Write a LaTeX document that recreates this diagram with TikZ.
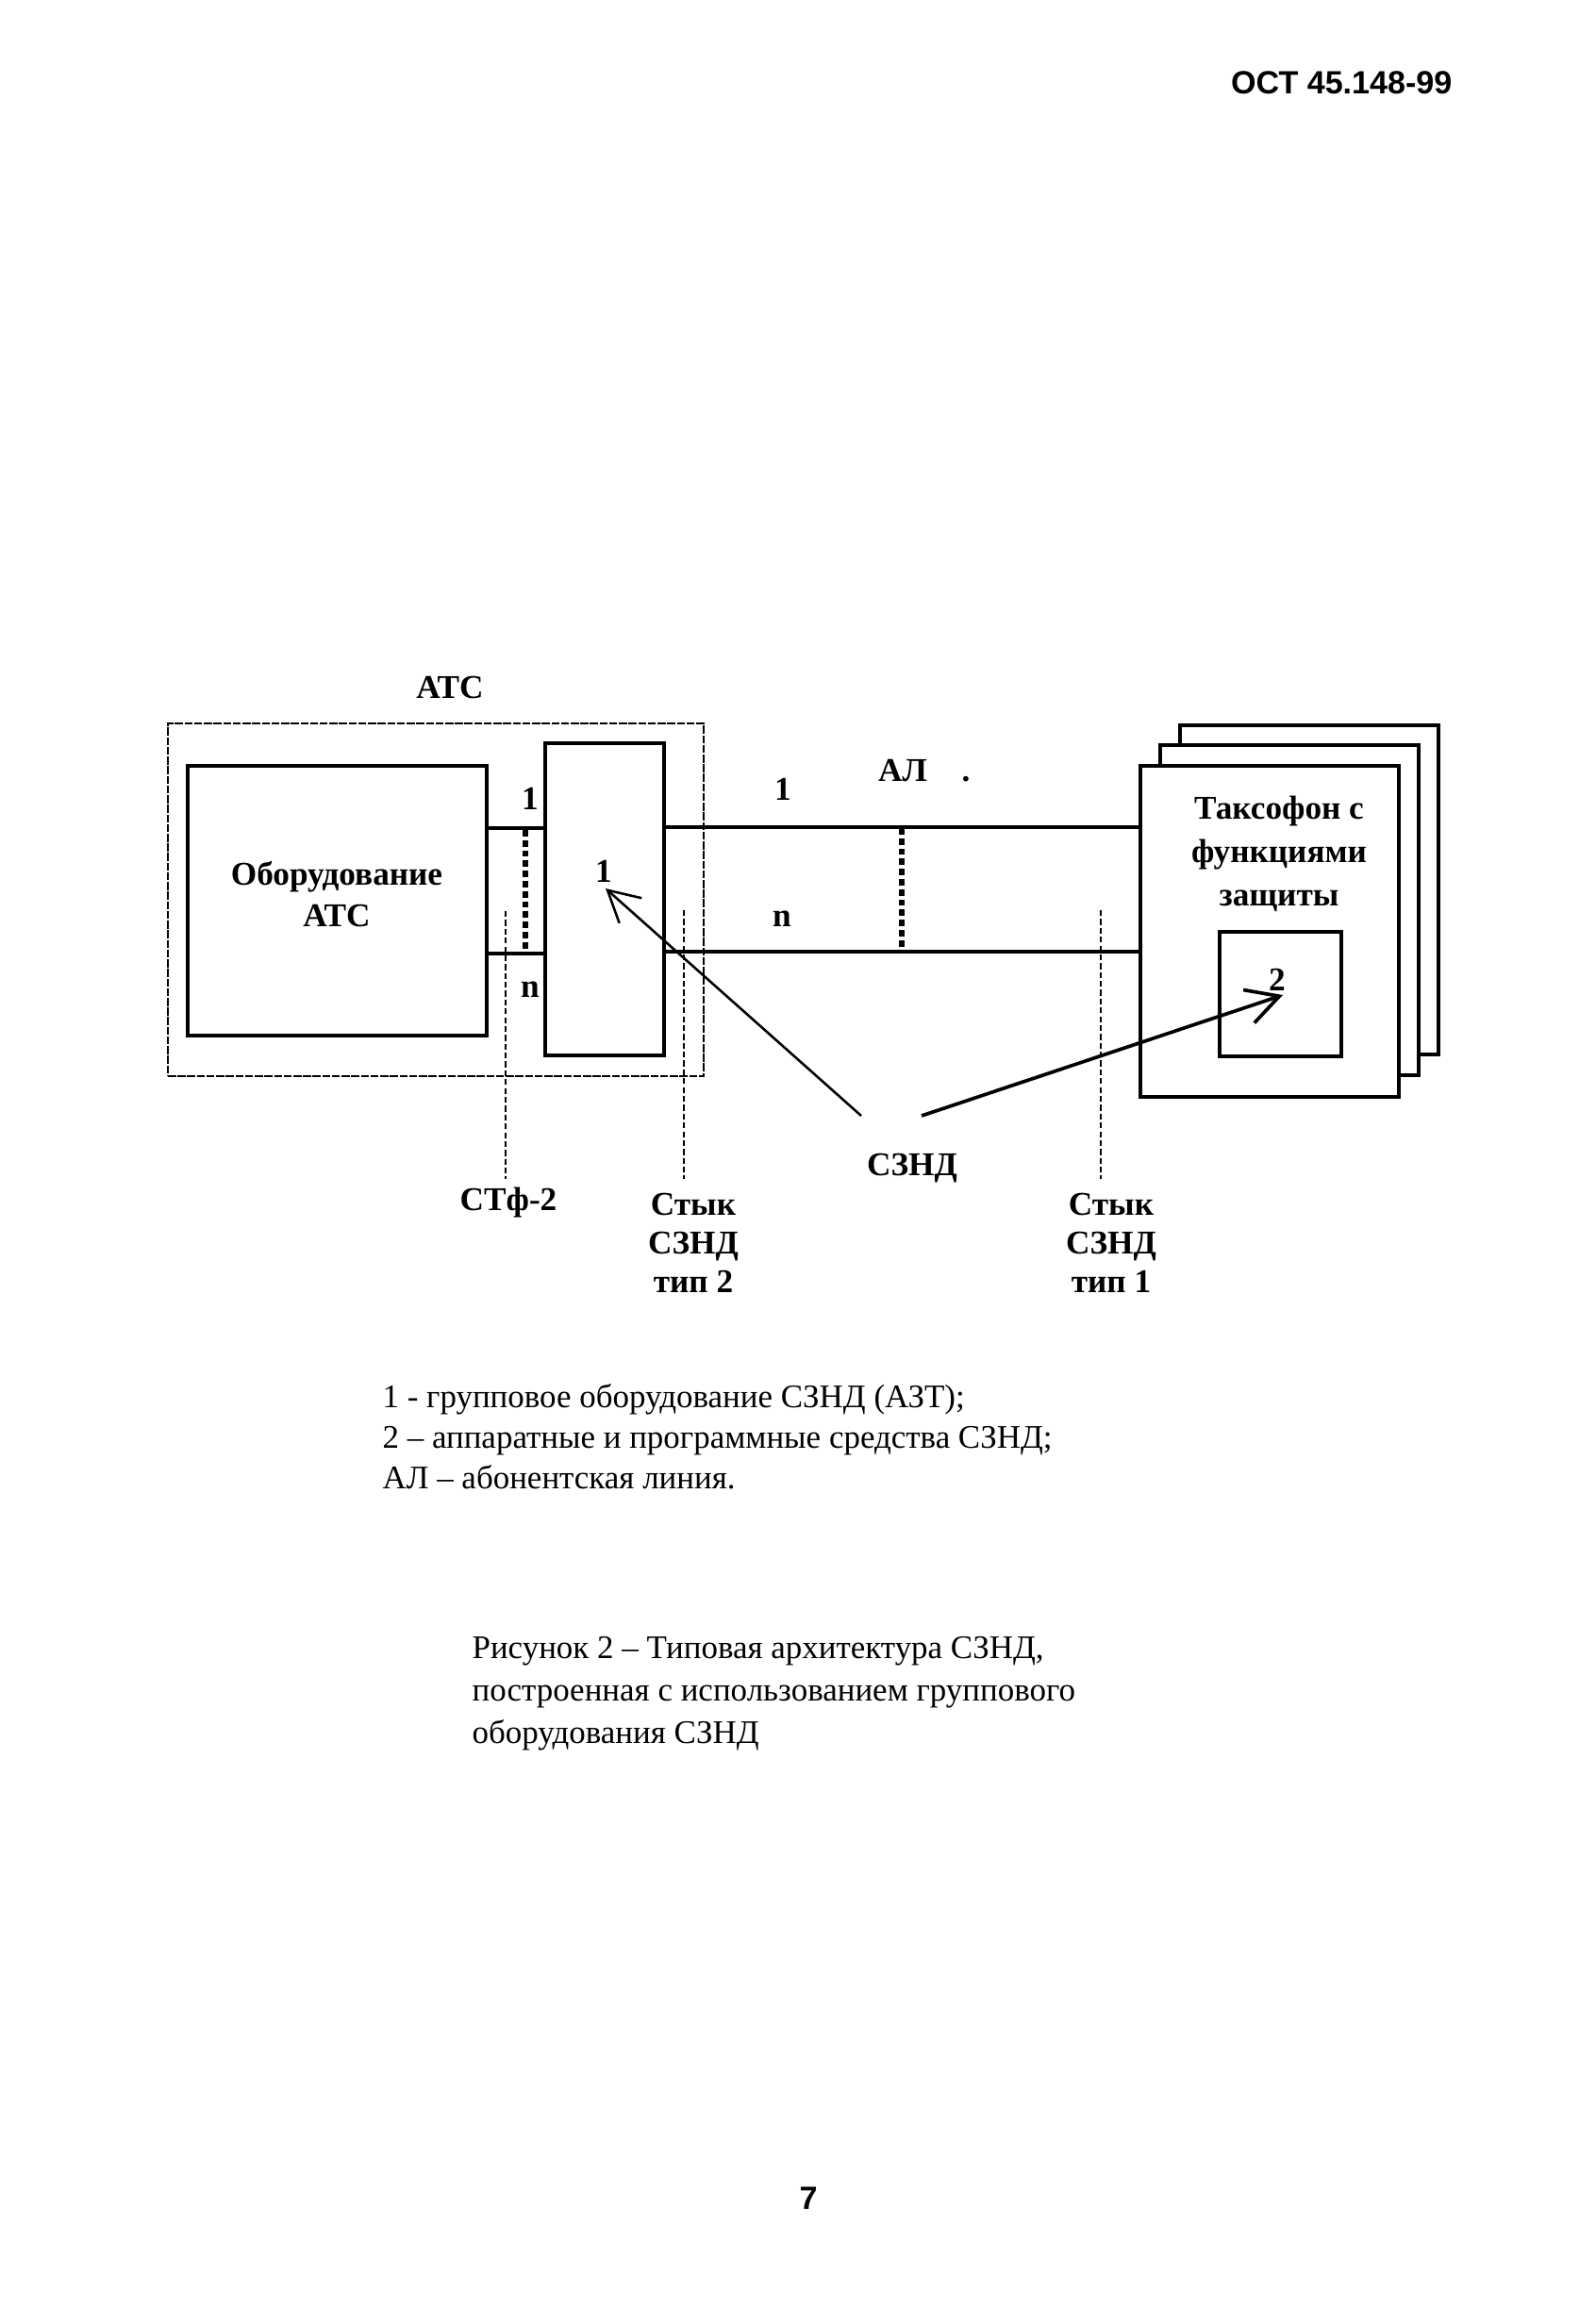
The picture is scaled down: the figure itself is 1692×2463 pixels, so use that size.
\documentclass[tikz,border=0pt]{standalone}
\usepackage{fontspec}
\setmainfont{Liberation Serif}
\newfontfamily\arialf{Liberation Sans}
\usetikzlibrary{arrows.meta,fit}
\begin{document}
\begin{tikzpicture}[x=0.3518pt,y=-0.3518pt,
  box/.style={draw, line width=1.2pt, inner sep=0pt, fill=white},
  atcbox/.style={draw, line width=0.7pt, dash pattern=on 3pt off 0.6pt, inner sep=0pt},
  lbl/.style={font=\fontsize{12.4pt}{14pt}\selectfont\bfseries, inner sep=0pt, anchor=base},
  txt/.style={font=\fontsize{12.3pt}{14pt}\selectfont, inner sep=0pt, anchor=base west},
  hdr/.style={font=\fontsize{12pt}{14pt}\selectfont\arialf\bfseries, inner sep=0pt},
  wire/.style={line width=1.2pt},
  dotv/.style={line width=1.8pt, dash pattern=on 2.4pt off 1.4pt},
  dashv/.style={line width=0.6pt, dash pattern=on 2.2pt off 1.1pt},
  arrA/.style={-{Straight Barb[length=11.5pt,width=12.5pt]}, line width=0.9pt},
  arrB/.style={-{Straight Barb[length=12pt,width=13pt]}, line width=1.3pt}]
\useasboundingbox (0,0) rectangle (1692,2463);
\fill[white] (0,0) rectangle (1692,2463);

% header and page number
\node[hdr, anchor=base east] (hdr) at (1540,100) {ОСТ 45.148-99};
\node[hdr, anchor=base] (pgn) at (857,2342) {7};

% ATC region
\node[atcbox, fit={(178,767) (746,1141)}] (atc) {};
\node[lbl] (atct) at (477,740) {АТС};
\node[box, fit={(199,812) (516,1098)}] (eq) {};
\node[lbl] (eqt1) at (357,938) {Оборудование};
\node[lbl] (eqt2) at (357,982) {АТС};
\node[box, fit={(578,788) (704,1119)}] (grp) {};
\node[lbl] (grpt) at (640,935) {1};

% taxophones
\node[box, fit={(1251,769) (1525,1118)}] (tb) {};
\node[box, fit={(1230,790) (1504,1140)}] (tm) {};
\node[box, fit={(1209,812) (1483,1163)}] (tf) {};
\node[lbl] (tft1) at (1356,868) {Таксофон с};
\node[lbl] (tft2) at (1356,914) {функциями};
\node[lbl] (tft3) at (1356,960) {защиты};
\node[box, fit={(1293,988) (1422,1120)}] (ib) {};
\node[lbl] (ibt) at (1354,1050) {2};

% lines
\coordinate (y1i) at (0,878);
\coordinate (yni) at (0,1011);
\coordinate (y1o) at (0,877);
\coordinate (yno) at (0,1009);
\draw[wire] (eq.east |- y1i) -- (grp.west |- y1i);
\draw[wire] (eq.east |- yni) -- (grp.west |- yni);
\draw[wire] (grp.east |- y1o) -- (tf.west |- y1o);
\draw[wire] (grp.east |- yno) -- (tf.west |- yno);
\node[lbl] (l1i) at (562,858) {1};
\node[lbl] (lni) at (562,1057) {n};
\node[lbl] (l1o) at (830,848) {1};
\node[lbl] (lno) at (829,982) {n};
\node[lbl] (al) at (957,828) {АЛ};
\node[lbl] (dot) at (1024,828) {.};

% thick dotted separators
\coordinate (dA1) at (557,880);
\coordinate (dA2) at (557,1010);
\coordinate (dB1) at (956,878);
\coordinate (dB2) at (956,1008);
\draw[dotv] (dA1) -- (dA2);
\draw[dotv] (dB1) -- (dB2);

% interface dashed verticals
\coordinate (v1t) at (536,966);
\coordinate (v1b) at (536,1250);
\coordinate (v2t) at (725,965);
\coordinate (v2b) at (725,1250);
\coordinate (v3t) at (1167,965);
\coordinate (v3b) at (1167,1250);
\draw[dashv] (v1t) -- (v1b);
\draw[dashv] (v2t) -- (v2b);
\draw[dashv] (v3t) -- (v3b);

\node[lbl] (stf) at (539,1283) {СТф-2};
\node[lbl] (s2a) at (735,1288) {Стык};
\node[lbl] (s2b) at (735,1329) {СЗНД};
\node[lbl] (s2c) at (735,1370) {тип 2};
\node[lbl] (s1a) at (1178,1288) {Стык};
\node[lbl] (s1b) at (1178,1329) {СЗНД};
\node[lbl] (s1c) at (1178,1370) {тип 1};

% СЗНД arrows
\node[lbl] (szn) at (967,1246) {СЗНД};
\coordinate (a1s) at (913,1183);
\coordinate (a1e) at (642,942);
\coordinate (a2s) at (977,1183);
\coordinate (a2e) at (1360,1055);
\draw[arrA] (a1s) -- (a1e);
\draw[arrB] (a2s) -- (a2e);

% legend
\node[txt] (lg1) at (405,1492) {1 - групповое оборудование СЗНД (АЗТ);};
\node[txt] (lg2) at (405,1535) {2 – аппаратные и программные средства СЗНД;};
\node[txt] (lg3) at (405,1578) {АЛ – абонентская линия.};

% caption
\node[txt] (cp1) at (500,1758) {Рисунок 2 – Типовая архитектура СЗНД,};
\node[txt] (cp2) at (500,1803) {построенная с использованием группового};
\node[txt] (cp3) at (500,1848) {оборудования СЗНД};
\end{tikzpicture}
\end{document}
